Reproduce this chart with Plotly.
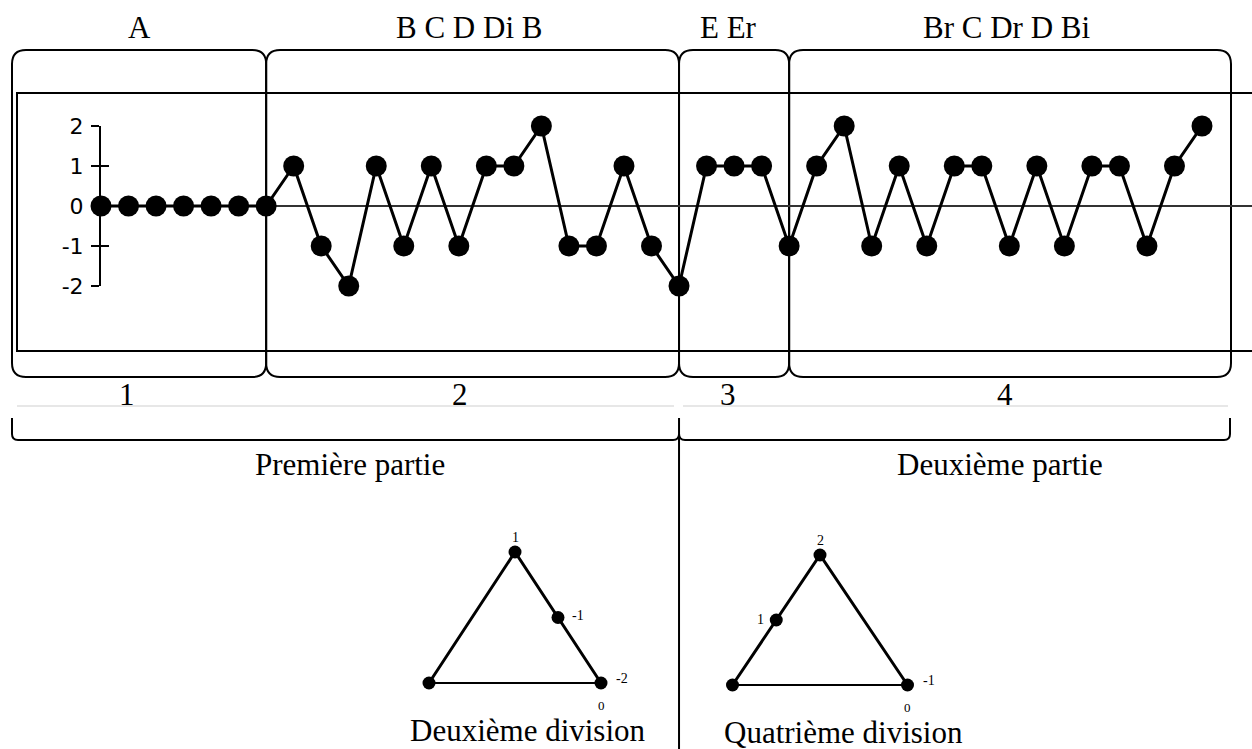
import plotly.graph_objects as go

# --- data ---
values = [0, 0, 0, 0, 0, 0, 0,
          1, -1, -2, 1, -1, 1, -1, 1, 1, 2, -1, -1, 1, -1, -2,
          1, 1, 1, -1,
          1, 2, -1, 1, -1, 1, 1, -1, 1, -1, 1, 1, -1, 1, 2]
y_ticks = [-2, -1, 0, 1, 2]
y_ticktext = ["-2", "-1", "0", "1", "2"]
section_names = ["A", "B C D Di B", "E Er", "Br C Dr D Bi"]
section_numbers = ["1", "2", "3", "4"]
section_ends = [6, 21, 25]          # note index where a section box ends
part_names = ["Première partie", "Deuxième partie"]
div_names = ["Deuxième division", "Quatrième division"]
tri_left_labels = ["1", "-1", "-2", "0"]    # top, side dot, corner, below corner
tri_right_labels = ["2", "1", "-1", "0"]

W, H = 1252, 749
X0 = 101          # pixel of first note
STEP = 27.525     # pixel per note
Y_TOP, Y_BOT = 126, 286   # pixels of +2 / -2

SERIF = "Liberation Serif"
SANS = "DejaVu Sans"


def npx(i):
    return X0 + i * STEP


def rrect(x0, y0, x1, y1, r=14):
    return (f"M{x0+r},{y0} L{x1-r},{y0} Q{x1},{y0} {x1},{y0+r} "
            f"L{x1},{y1-r} Q{x1},{y1} {x1-r},{y1} L{x0+r},{y1} "
            f"Q{x0},{y1} {x0},{y1-r} L{x0},{y0+r} Q{x0},{y0} {x0+r},{y0} Z")


fig = go.Figure()

# background pixel axes
fig.add_trace(go.Scatter(x=[], y=[], xaxis="x", yaxis="y", showlegend=False))

# main melodic line
fig.add_trace(go.Scatter(
    x=list(range(len(values))), y=values, xaxis="x2", yaxis="y2",
    mode="lines+markers", cliponaxis=False,
    line=dict(color="black", width=3),
    marker=dict(color="black", size=21),
    hoverinfo="skip", showlegend=False))
# overlay axis for the inner half of the tick marks
fig.add_trace(go.Scatter(x=[], y=[], xaxis="x2", yaxis="y3", showlegend=False))

shapes = []
line2 = dict(color="black", width=2)

# section boxes
edges = [12] + [npx(i) for i in section_ends] + [1231]
for a, b in zip(edges[:-1], edges[1:]):
    shapes.append(dict(type="path", path=rrect(a, 50, b, 377), line=line2,
                       xref="x", yref="y", layer="below"))
# inner frame (open on the right)
shapes.append(dict(type="path", path="M1260,93 L17,93 L17,351 L1260,351",
                   line=line2, xref="x", yref="y", layer="below"))

# thin grey rules under the numbers
mid = npx(section_ends[1])
for a, b in [(17, mid - 5), (mid + 4, 1228)]:
    shapes.append(dict(type="line", x0=a, x1=b, y0=406, y1=406, xref="x", yref="y",
                       line=dict(color="#cfcfcf", width=1)))

# brackets
shapes.append(dict(type="path", xref="x", yref="y", line=line2,
                   path=f"M12,418 L12,434 Q12,440 18,440 L{mid-6},440 Q{mid},440 {mid},434"))
shapes.append(dict(type="path", xref="x", yref="y", line=line2,
                   path=f"M{mid},434 Q{mid},440 {mid+6},440 L1224,440 Q1230,440 1230,434 L1230,418"))
shapes.append(dict(type="line", x0=mid, x1=mid, y0=418, y1=H + 2, xref="x", yref="y",
                   line=line2))

annotations = []


def label(x, y, text, size=31, font=SERIF, xanchor="center"):
    annotations.append(dict(x=x, y=y, xref="x", yref="y", text=text, showarrow=False,
                            xanchor=xanchor, yanchor="middle", borderpad=0,
                            font=dict(family=font, size=size, color="black")))


for x, t in zip([139, 469, 728, 1006], section_names):
    label(x, 27, t)
for x, t in zip([127, 460, 728, 1005], section_numbers):
    label(x, 394, t)
for x, t in zip([350, 1000], part_names):
    label(x, 464, t)
for x, y, t in zip([528, 843], [730, 732], div_names):
    label(x, y, t)


# triangles
def triangle(cx, top, base, hw, side, labels):
    tx, bl, br = (cx, top), (cx - hw, base), (cx + hw, base)
    corner = br
    if side == "right":
        m = ((tx[0] + br[0]) / 2, (tx[1] + br[1]) / 2)
    else:
        m = ((tx[0] + bl[0]) / 2, (tx[1] + bl[1]) / 2)
    fig.add_trace(go.Scatter(x=[bl[0], tx[0], br[0]], y=[bl[1], tx[1], br[1]],
                             mode="lines", line=dict(color="black", width=3),
                             xaxis="x", yaxis="y", showlegend=False, hoverinfo="skip"))
    fig.add_trace(go.Scatter(x=[bl[0], br[0]], y=[bl[1], br[1]],
                             mode="lines", line=dict(color="black", width=2),
                             xaxis="x", yaxis="y", showlegend=False, hoverinfo="skip"))
    fig.add_trace(go.Scatter(x=[bl[0], tx[0], m[0], br[0]], y=[bl[1], tx[1], m[1], br[1]],
                             mode="markers", marker=dict(color="black", size=13),
                             xaxis="x", yaxis="y", showlegend=False, hoverinfo="skip",
                             cliponaxis=False))
    label(tx[0], tx[1] - 15, labels[0], size=14)
    if side == "right":
        label(m[0] + 13, m[1] - 2, labels[1], size=14, xanchor="left")
    else:
        label(m[0] - 11, m[1] - 1, labels[1], size=14, xanchor="right")
    label(corner[0] + 14, corner[1] - 5, labels[2], size=14, xanchor="left")
    label(corner[0], corner[1] + 22, labels[3], size=13)


triangle(515, 552, 683, 86, "right", tri_left_labels)
triangle(820, 555, 685, 87.5, "left", tri_right_labels)

fig.update_layout(
    template="none",
    width=W, height=H, margin=dict(l=0, r=0, t=0, b=0, pad=0, autoexpand=False),
    paper_bgcolor="white", plot_bgcolor="rgba(0,0,0,0)",
    showlegend=False, shapes=shapes, annotations=annotations,
    xaxis=dict(range=[0, W], domain=[0, 1], visible=False, fixedrange=True,
               automargin=False),
    yaxis=dict(range=[H, 0], domain=[0, 1], visible=False, fixedrange=True,
               automargin=False),
    xaxis2=dict(domain=[X0 / W, 1], range=[0, (W - X0) / STEP], anchor="y2",
                visible=False, fixedrange=True, automargin=False),
    yaxis2=dict(domain=[(H - Y_BOT) / H, (H - Y_TOP) / H], range=[-2, 2], anchor="x2",
                tickmode="array", tickvals=y_ticks, ticktext=y_ticktext,
                ticks="outside", ticklen=8, tickwidth=2, tickcolor="black",
                ticklabelstandoff=3,
                showline=True, linewidth=2, linecolor="black", automargin=False,
                showgrid=False, zeroline=True, zerolinewidth=2, zerolinecolor="#333",
                tickfont=dict(family=SANS, size=22, color="black"), fixedrange=True),
    yaxis3=dict(overlaying="y2", anchor="x2", range=[-2, 2], side="left",
                tickmode="array", tickvals=y_ticks, ticks="inside", ticklen=8,
                tickwidth=2, tickcolor="black", showticklabels=False, automargin=False,
                showgrid=False, zeroline=False, showline=False, fixedrange=True),
)

fig.write_html("out.html", config={"displayModeBar": False},
               post_script="document.body.style.margin='0';")
